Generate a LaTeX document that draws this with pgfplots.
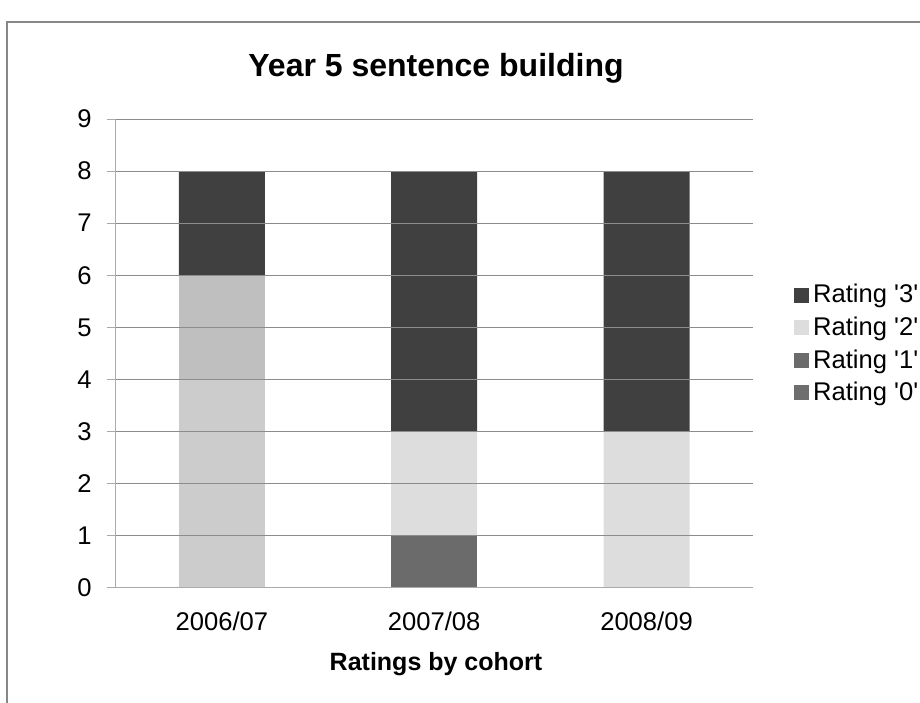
\documentclass[border=0pt]{standalone}
\usepackage{fontspec}
\setmainfont{Liberation Sans}
\usepackage{pgfplots}
\pgfplotsset{compat=1.18}

\definecolor{rthree}{RGB}{64,64,64}
\definecolor{rtwo}{RGB}{221,221,221}
\definecolor{rone}{RGB}{107,107,107}
\definecolor{rzero}{RGB}{110,110,110}
\definecolor{oldtwo}{RGB}{191,191,191}
\definecolor{oldone}{RGB}{204,204,204}
\definecolor{gridc}{RGB}{140,140,140}
\definecolor{axisc}{RGB}{170,170,170}
\definecolor{framec}{RGB}{135,135,135}

\begin{document}
\begin{tikzpicture}[x=0.5pt,y=0.5pt]
\useasboundingbox (0,0) rectangle (920,702);
\draw[framec, line width=0.6pt] (7,-20) -- (7,680) -- (940,680);
\node[font=\fontsize{16}{19}\selectfont\bfseries] at (436,634) {Year 5 sentence building};
\node[font=\fontsize{12.5}{15}\selectfont\bfseries] at (436,38) {Ratings by cohort};

\begin{axis}[
    at={(57.85pt,57.15pt)}, anchor=south west,
    scale only axis, width=318.5pt, height=234.35pt,
    ybar stacked, bar width=43pt,
    xmin=-0.5, xmax=2.5, ymin=0, ymax=9,
    xtick={0,1,2}, xticklabels={2006/07,2007/08,2008/09},
    major x tick style={draw=none},
    extra x ticks={-0.5,0.5,1.5,2.5}, extra x tick labels={},
    extra x tick style={major tick length=2.5pt, tick style={axisc, line width=0.5pt}},
    ytick={0,...,9},
    tick align=outside, major tick length=4.5pt,
    ytick style={axisc, line width=0.5pt},
    axis x line*=bottom, axis y line*=left,
    axis line style={axisc, line width=0.6pt, -},
    ymajorgrids, grid style={gridc, line width=0.5pt},
    axis on top,
    tick label style={font=\fontsize{12.8}{15}\selectfont},
    /pgf/number format/assume math mode=true,
    yticklabel style={xshift=-4pt},
    xticklabel style={yshift=-4pt},
    reverse legend,
    legend style={at={(1.055,0.665)}, anchor=north west, draw=none, fill=none,
        font=\fontsize{12.8}{15}\selectfont, row sep=1.5pt},
    legend cell align=left,
    legend image code/.code={\fill[#1] (0pt,-3.75pt) rectangle (7.5pt,3.75pt);},
]
\addplot[fill=oldone, draw=none, forget plot] coordinates {(0,4) (1,0) (2,0)};
\addplot[fill=oldtwo, draw=none, forget plot] coordinates {(0,2) (1,0) (2,0)};
\addplot[fill=rzero, draw=none] coordinates {(0,0) (1,0) (2,0)};
\addlegendentry{Rating \textquotesingle0\textquotesingle}
\addplot[fill=rone, draw=none] coordinates {(0,0) (1,1) (2,0)};
\addlegendentry{Rating \textquotesingle1\textquotesingle}
\addplot[fill=rtwo, draw=none] coordinates {(0,0) (1,2) (2,3)};
\addlegendentry{Rating \textquotesingle2\textquotesingle}
\addplot[fill=rthree, draw=none] coordinates {(0,2) (1,5) (2,5)};
\addlegendentry{Rating \textquotesingle3\textquotesingle}
\end{axis}
\end{tikzpicture}
\end{document}
